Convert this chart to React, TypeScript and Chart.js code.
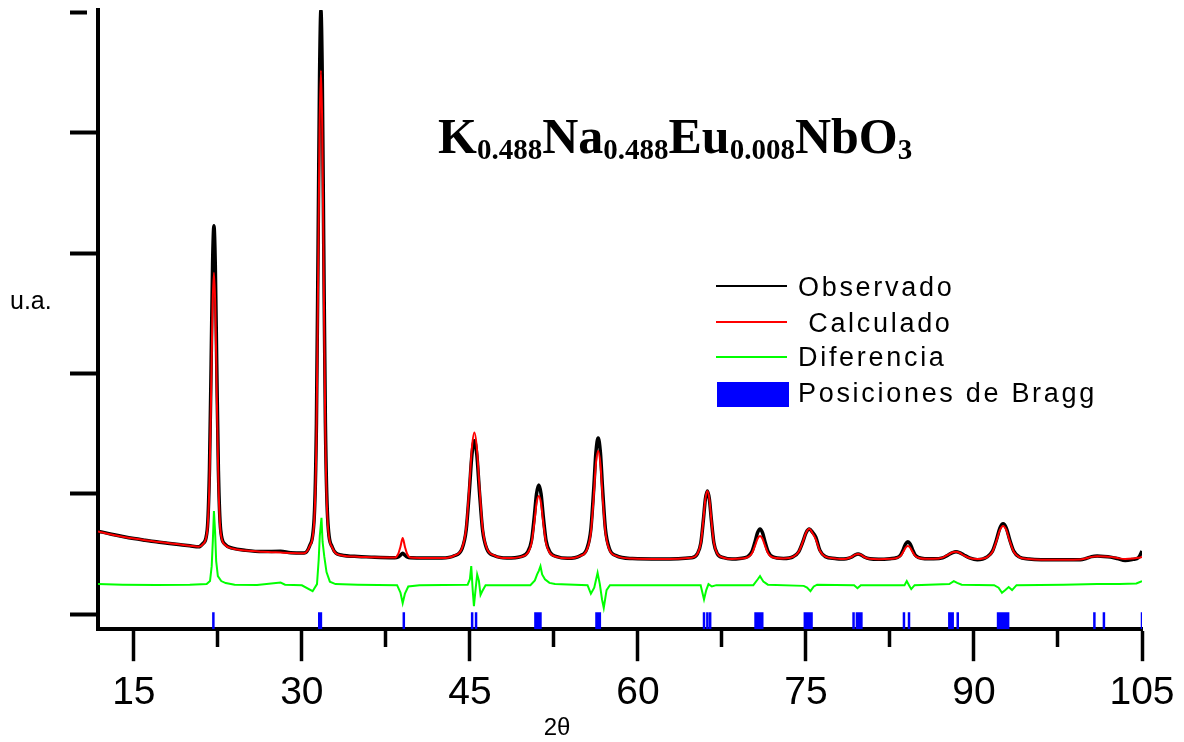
import React, { useEffect, useRef } from 'react';
import { Chart, registerables } from 'chart.js';

Chart.register(...registerables);

// 2θ grid shared by observed / calculated profiles
const twoTheta = [
  11.8, 13, 14, 15, 16, 17, 18, 19, 20, 20.8,
  21.15, 21.55, 21.75, 21.9, 22.03, 22.15, 22.27, 22.4, 22.55, 22.75, 23.15,
  23.8, 25, 26.5, 28.1, 29, 30.2,
  30.7, 31.1, 31.3, 31.45, 31.58, 31.7, 31.82, 31.95, 32.1, 32.3, 32.7,
  33.5, 35, 36.5, 38.3, 38.6, 38.8, 39.0, 39.2, 39.4, 39.7, 41, 42.5,
  43.6, 44.3, 44.67, 44.95, 45.18, 45.4, 45.62, 45.85, 46.13, 46.5, 47.2, 48.3,
  49.55, 50.15, 50.5, 50.75, 50.95, 51.15, 51.35, 51.55, 51.8, 52.15, 52.75, 53.7,
  54.85, 55.45, 55.8, 56.05, 56.25, 56.45, 56.65, 56.85, 57.1, 57.45, 58.05, 59.5, 62,
  64.75, 65.32, 65.62, 65.84, 66.02, 66.2, 66.38, 66.56, 66.78, 67.08, 67.65, 68.4,
  69.1, 69.8, 70.17, 70.45, 70.68, 70.9, 71.12, 71.35, 71.63, 72.0,
  73.0, 73.87, 74.35, 74.72, 75.01, 75.3, 75.59, 75.88, 76.25, 76.73, 77.6, 78.1,
  78.6, 79.1, 79.4, 79.65, 79.9, 80.2, 80.7, 81.5,
  82.5, 83.1, 83.45, 83.7, 83.9, 84.1, 84.3, 84.5, 84.75, 85.1, 85.7,
  86.4, 87.2, 87.7, 88.1, 88.4, 88.7, 89.1, 89.6,
  90.3, 91.17, 91.65, 92.02, 92.31, 92.6, 92.89, 93.18, 93.55, 94.03, 94.9, 96, 98,
  99.5, 100.0, 100.5, 101.0, 101.6, 102.2, 102.8, 103.5, 104.2, 104.7, 105,
];

const observed = [
  690, 664, 645, 628, 614, 601, 590, 579, 568, 560,
  585, 700, 1199, 2083, 2914, 3228, 2905, 2075, 1190, 700, 580,
  548, 530, 520, 522, 510, 508,
  570, 800, 1588, 3077, 4476, 5017, 4476, 3077, 1588, 800, 560,
  492, 480, 472, 468, 475, 490, 507, 490, 475, 468, 466, 466,
  485, 544, 700, 1021, 1323, 1440, 1323, 1021, 700, 544, 485, 466,
  478, 515, 612, 812, 1000, 1073, 1000, 812, 612, 515, 478, 464,
  486, 546, 706, 1035, 1344, 1464, 1344, 1035, 706, 546, 486, 462, 458,
  469, 503, 594, 780, 955, 1023, 955, 780, 594, 503, 469, 458,
  463, 478, 518, 600, 677, 707, 677, 600, 518, 478,
  463, 478, 518, 600, 677, 707, 680, 640, 530, 478, 463, 458,
  460, 475, 493, 499, 493, 475, 460, 456,
  461, 469, 492, 540, 584, 601, 584, 540, 492, 469, 461,
  460, 468, 492, 512, 518, 512, 492, 468,
  452, 476, 524, 622, 715, 751, 715, 622, 524, 476, 458, 452, 452,
  452, 462, 478, 483, 480, 474, 462, 446, 455, 470, 524,
];

const calculated = [
  688, 662, 644, 628, 614, 602, 591, 580, 568, 561,
  580, 690, 1105, 1860, 2569, 2837, 2560, 1852, 1097, 680, 575,
  545, 528, 518, 512, 509, 507,
  565, 770, 1468, 2792, 4036, 4518, 4036, 2792, 1468, 770, 555,
  490, 478, 472, 470, 500, 560, 632, 560, 500, 470, 466, 466,
  487, 550, 717, 1061, 1385, 1510, 1385, 1061, 717, 550, 487, 466,
  476, 507, 590, 760, 920, 982, 920, 760, 590, 507, 476, 464,
  484, 537, 680, 973, 1249, 1356, 1249, 973, 680, 537, 484, 462, 458,
  469, 503, 594, 780, 955, 1023, 955, 780, 594, 503, 469, 458,
  462, 473, 504, 567, 626, 649, 626, 567, 504, 473,
  463, 478, 518, 600, 677, 710, 672, 622, 525, 478, 463, 458,
  461, 477, 495, 500, 494, 475, 460, 457,
  460, 467, 484, 520, 553, 566, 553, 520, 484, 467, 460,
  460, 470, 495, 514, 518, 510, 488, 466,
  458, 474, 519, 612, 698, 732, 698, 612, 519, 474, 458, 452, 452,
  454, 464, 476, 482, 480, 476, 466, 458, 462, 468, 476,
];

// difference curve (observed - calculated, shifted)
const diffTheta = [
  11.8, 14, 17, 20, 21.5, 21.8, 21.95, 22.05, 22.15, 22.25, 22.35, 22.5, 22.8, 23.2,
  24, 26, 28.1, 28.5, 30, 30.96, 31.35, 31.5, 31.6, 31.75, 31.85, 32.0, 32.2, 32.5, 33,
  35, 38.5, 38.8, 39.0, 39.2, 39.5, 40.5,
  44.8, 45.0, 45.12, 45.25, 45.36, 45.5, 45.65, 45.8, 45.95, 46.1, 46.4,
  50.4, 50.8, 51.0, 51.15, 51.3, 51.45, 51.7, 52.1, 52.6,
  55.5, 55.8, 56.1, 56.4, 56.6, 56.8, 56.95, 57.2, 57.5,
  65.6, 65.9, 66.1, 66.3, 66.6, 67,
  70.3, 70.7, 70.9, 71.2, 71.6,
  74.8, 75.1, 75.4, 75.7, 76,
  79.3, 79.6, 79.9,
  83.8, 84.0, 84.2, 84.4, 84.7,
  87.8, 88.2, 88.5, 88.9,
  91.8, 92.2, 92.5, 92.8, 93.1, 93.4, 93.8,
  98, 101, 103, 104.5, 105,
];

const difference = [
  250, 245, 243, 245, 250, 275, 399, 607, 857, 690, 441, 316, 275, 258,
  245, 243, 262, 245, 240, 191, 250, 450, 650, 800, 600, 480, 350, 270, 250,
  245, 241, 180, 91, 170, 230, 241,
  245, 290, 399, 200, 67, 200, 330, 280, 160, 190, 241,
  241, 280, 330, 360, 399, 330, 290, 260, 250,
  241, 170, 220, 344, 250, 120, 52, 200, 241,
  241, 122, 200, 250, 230, 241,
  241, 290, 316, 270, 245,
  235, 220, 191, 230, 245,
  241, 216, 241,
  241, 275, 241, 208, 241,
  250, 275, 260, 245,
  241, 220, 177, 200, 225, 200, 241,
  245, 250, 250, 255, 275,
];

const braggPositions = [
  22.1, 31.55, 31.7, 39.1, 45.2, 45.55,
  50.85, 51.0, 51.15, 51.3, 56.3, 56.45, 56.6,
  65.9, 66.2, 66.45, 70.5, 70.65, 70.8, 70.95, 71.1,
  74.9, 75.05, 75.2, 75.35, 75.5, 79.25, 79.55, 79.75, 79.95,
  83.75, 84.2, 87.8, 87.95, 88.1, 88.55,
  92.15, 92.3, 92.45, 92.6, 92.75, 92.9, 93.05,
  100.75, 101.6, 105.0,
];
const braggTickBottom = -125;
const braggTickTop = 15;

const xTickValues = [15, 22.5, 30, 37.5, 45, 52.5, 60, 67.5, 75, 82.5, 90, 97.5, 105];
const xTickLabels = ['15', '', '30', '', '45', '', '60', '', '75', '', '90', '', '105'];
const yTickValues = [0, 1000, 2000, 3000, 4000, 5000];

const seriesLabels = ['Observado', ' Calculado', 'Diferencia', 'Posiciones de Bragg'];
const titleParts: [string, string][] = [
  ['K', '0.488'],
  ['Na', '0.488'],
  ['Eu', '0.008'],
  ['NbO', '3'],
];
const yAxisLabel = 'u.a.';
const xAxisLabel = '2θ';

const SANS = '"Liberation Sans", Arial, sans-serif';
const SERIF = '"Liberation Serif", "Times New Roman", serif';

const overlayPlugin = {
  id: 'overlayTexts',
  afterDraw(chart: any) {
    const ctx: CanvasRenderingContext2D = chart.ctx;
    ctx.save();
    ctx.fillStyle = '#000';
    ctx.textBaseline = 'alphabetic';
    ctx.textAlign = 'left';

    // Formula title
    let x = 438;
    const base = 153;
    for (const [main, sub] of titleParts) {
      ctx.font = `bold 50px ${SERIF}`;
      ctx.fillText(main, x, base);
      x += ctx.measureText(main).width;
      ctx.font = `bold 29px ${SERIF}`;
      ctx.fillText(sub, x, base + 6);
      x += ctx.measureText(sub).width;
    }

    // Legend
    const colors = ['#000000', '#FF0000', '#00FF00'];
    const lineYs = [286, 322, 357];
    ctx.lineWidth = 2;
    for (let i = 0; i < 3; i++) {
      ctx.strokeStyle = colors[i];
      ctx.beginPath();
      ctx.moveTo(716, lineYs[i]);
      ctx.lineTo(787, lineYs[i]);
      ctx.stroke();
    }
    ctx.fillStyle = '#0000FF';
    ctx.fillRect(717, 382, 72, 25);
    ctx.fillStyle = '#000';
    ctx.font = `27px ${SANS}`;
    (ctx as any).letterSpacing = '2.7px';
    const textBases = [296, 332, 366, 402];
    seriesLabels.forEach((t, i) => ctx.fillText(t, 798, textBases[i]));
    (ctx as any).letterSpacing = '0px';

    // axis labels
    ctx.font = `25px ${SANS}`;
    ctx.fillText(yAxisLabel, 10, 309);
    ctx.font = `24px ${SANS}`;
    ctx.textAlign = 'center';
    ctx.fillText(xAxisLabel, 557, 735);
    ctx.restore();
  },
};

export default function App() {
  const canvasRef = useRef<HTMLCanvasElement>(null);

  useEffect(() => {
    const canvas = canvasRef.current;
    if (!canvas) return;

    const obsData = twoTheta.map((t, i) => ({ x: t, y: observed[i] }));
    const calcData = twoTheta.map((t, i) => ({ x: t, y: calculated[i] }));
    const diffData = diffTheta.map((t, i) => ({ x: t, y: difference[i] }));
    const braggData: { x: number; y: number | null }[] = [];
    braggPositions.forEach((p) => {
      braggData.push({ x: p, y: braggTickBottom });
      braggData.push({ x: p, y: braggTickTop });
      braggData.push({ x: p, y: null });
    });

    const chart = new Chart(canvas, {
      type: 'line',
      data: {
        datasets: [
          {
            label: 'Calculado',
            data: calcData,
            borderColor: '#FF0000',
            borderWidth: 2,
            pointRadius: 0,
            cubicInterpolationMode: 'monotone',
            order: 1,
          },
          {
            label: 'Observado',
            data: obsData,
            borderColor: '#000000',
            borderWidth: 3.5,
            pointRadius: 0,
            cubicInterpolationMode: 'monotone',
            order: 2,
          },
          {
            label: 'Diferencia',
            data: diffData,
            borderColor: '#00FF00',
            borderWidth: 2,
            pointRadius: 0,
            tension: 0,
            order: 3,
          },
          {
            label: 'Posiciones de Bragg',
            data: braggData as any,
            borderColor: '#0000FF',
            borderWidth: 2.5,
            pointRadius: 0,
            spanGaps: false,
            tension: 0,
            order: 4,
          },
        ],
      },
      options: {
        animation: false,
        responsive: false,
        devicePixelRatio: 1,
        events: [],
        layout: { padding: { left: 70, top: 10, right: 42, bottom: 16 } },
        plugins: {
          legend: { display: false },
          tooltip: { enabled: false },
          title: { display: false },
        },
        scales: {
          x: {
            type: 'linear',
            min: 11.8,
            max: 105,
            afterBuildTicks: (scale: any) => {
              scale.ticks = xTickValues.map((v) => ({ value: v }));
            },
            ticks: {
              autoSkip: false,
              maxRotation: 0,
              minRotation: 0,
              padding: 9,
              color: '#000',
              font: { family: SANS, size: 39 },
              callback: (value: any) => {
                const idx = xTickValues.indexOf(Number(value));
                return idx >= 0 ? xTickLabels[idx] : '';
              },
            },
            grid: {
              drawOnChartArea: false,
              drawTicks: true,
              tickLength: 32,
              tickWidth: 3.5,
              tickColor: '#000',
              tickBorderDash: (c: any) =>
                c.tick && c.tick.value % 15 !== 0 ? [16, 200] : [],
            },
            border: { display: true, width: 4, color: '#000' },
          },
          y: {
            type: 'linear',
            min: -125,
            max: 5020,
            afterBuildTicks: (scale: any) => {
              scale.ticks = yTickValues.map((v) => ({ value: v }));
            },
            ticks: { display: false },
            grid: {
              drawOnChartArea: false,
              drawTicks: true,
              tickLength: 28,
              tickWidth: 4,
              tickColor: '#000',
              tickBorderDash: (c: any) =>
                c.tick && c.tick.value === 5000 ? [17, 200] : [],
            },
            border: { display: true, width: 4, color: '#000' },
          },
        },
      } as any,
      plugins: [overlayPlugin],
    });

    return () => chart.destroy();
  }, []);

  return (
    <div
      style={{
        position: 'absolute',
        left: 0,
        top: 0,
        width: 1184,
        height: 742,
        background: '#fff',
      }}
    >
      <canvas
        ref={canvasRef}
        width={1184}
        height={742}
        style={{ display: 'block', width: 1184, height: 742 }}
      />
    </div>
  );
}
